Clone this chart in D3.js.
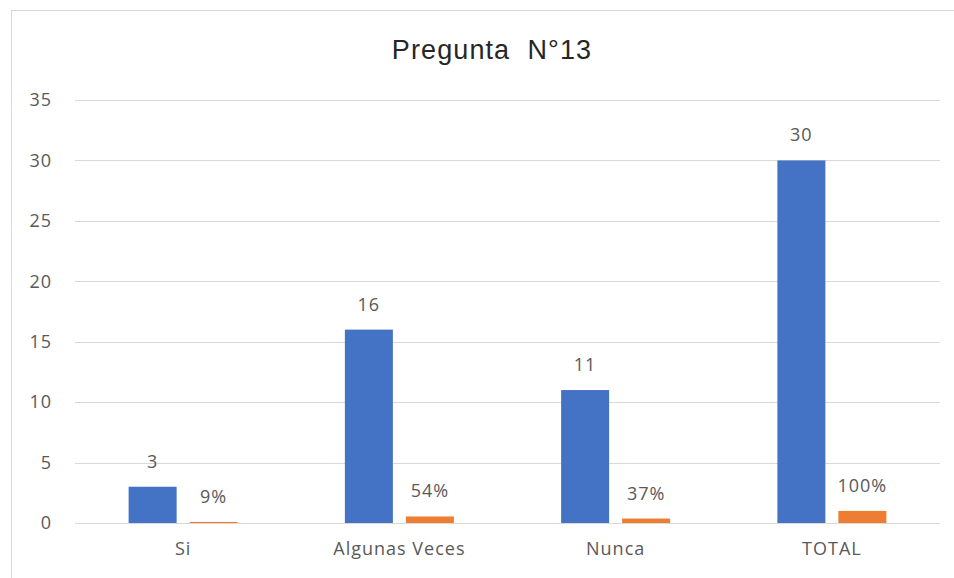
<!DOCTYPE html>
<html>
<head>
<meta charset="utf-8">
<script src="https://cdn.jsdelivr.net/npm/d3@7"></script>
<style>
  body { margin: 0; background: #fff; }
  .tick text, .lbl { font-family: "Open Sans", sans-serif; fill: #595959; letter-spacing: 1px; }
</style>
</head>
<body>
<div id="chart"></div>
<script>
var categories = ["Si", "Algunas Veces", "Nunca", "TOTAL"];
var counts = [3, 16, 11, 30];
var percents = [0.09, 0.54, 0.37, 1.00];
var yTicks = [0, 5, 10, 15, 20, 25, 30, 35];

var W = 954, H = 578;
var margin = { top: 100, right: 940, bottom: 523, left: 75 };

var svg = d3.select("#chart").append("svg")
  .attr("width", W)
  .attr("height", H);

// chart frame
svg.append("rect")
  .attr("x", 11.5).attr("y", 10.5)
  .attr("width", W).attr("height", H)
  .attr("fill", "#fff")
  .attr("stroke", "#d9d9d9");

svg.append("text")
  .attr("x", 492).attr("y", 59)
  .attr("text-anchor", "middle")
  .style("font-family", "'Liberation Sans', Arial, sans-serif")
  .style("font-size", "27px")
  .style("letter-spacing", "1.1px")
  .style("white-space", "pre")
  .style("fill", "#262626")
  .text("Pregunta  N°13");

var x = d3.scaleBand()
  .domain(categories)
  .range([margin.left, margin.right]);

var xs = d3.scaleBand()
  .domain(["count", "pct"])
  .range([0, x.bandwidth()])
  .paddingInner(0.213)
  .paddingOuter(0.879);

var y = d3.scaleLinear()
  .domain([0, 35])
  .range([margin.bottom, margin.top]);

// grid
svg.append("g")
  .selectAll("line")
  .data(yTicks)
  .enter().append("line")
  .attr("x1", margin.left).attr("x2", margin.right)
  .attr("y1", function (d) { return Math.round(y(d)) + 0.5; })
  .attr("y2", function (d) { return Math.round(y(d)) + 0.5; })
  .attr("stroke", "#d9d9d9");

var yAxis = svg.append("g")
  .attr("transform", "translate(" + (margin.left - 23) + ",0)")
  .call(d3.axisLeft(y).tickValues(yTicks).tickSize(0).tickPadding(0));
yAxis.select(".domain").remove();
yAxis.selectAll("text").style("font-size", "18px");

var xAxis = svg.append("g")
  .attr("transform", "translate(0," + (margin.bottom + 19) + ")")
  .call(d3.axisBottom(x).tickSize(0).tickPadding(0));
xAxis.select(".domain").remove();
xAxis.selectAll("text").style("font-size", "18px").attr("dy", "0.71em");

var rows = categories.map(function (c, i) {
  return { cat: c, count: counts[i], pct: percents[i] };
});

var g = svg.selectAll(".grp")
  .data(rows)
  .enter().append("g")
  .attr("class", "grp")
  .attr("transform", function (d) { return "translate(" + x(d.cat) + ",0)"; });

g.append("rect")
  .attr("x", xs("count"))
  .attr("width", xs.bandwidth())
  .attr("y", function (d) { return y(d.count); })
  .attr("height", function (d) { return y(0) - y(d.count); })
  .attr("fill", "#4472c4");

g.append("rect")
  .attr("x", xs("pct"))
  .attr("width", xs.bandwidth())
  .attr("y", function (d) { return y(d.pct); })
  .attr("height", function (d) { return y(0) - y(d.pct); })
  .attr("fill", "#ed7d31");

g.append("text")
  .attr("class", "lbl")
  .attr("x", xs("count") + xs.bandwidth() / 2)
  .attr("y", function (d) { return y(d.count) - 19; })
  .attr("text-anchor", "middle")
  .style("font-size", "18px")
  .text(function (d) { return d.count; });

g.append("text")
  .attr("class", "lbl")
  .attr("x", xs("pct") + xs.bandwidth() / 2)
  .attr("y", function (d) { return y(d.pct) - 19; })
  .attr("text-anchor", "middle")
  .style("font-size", "18px")
  .text(function (d) { return d3.format(".0%")(d.pct); });
</script>
</body>
</html>
